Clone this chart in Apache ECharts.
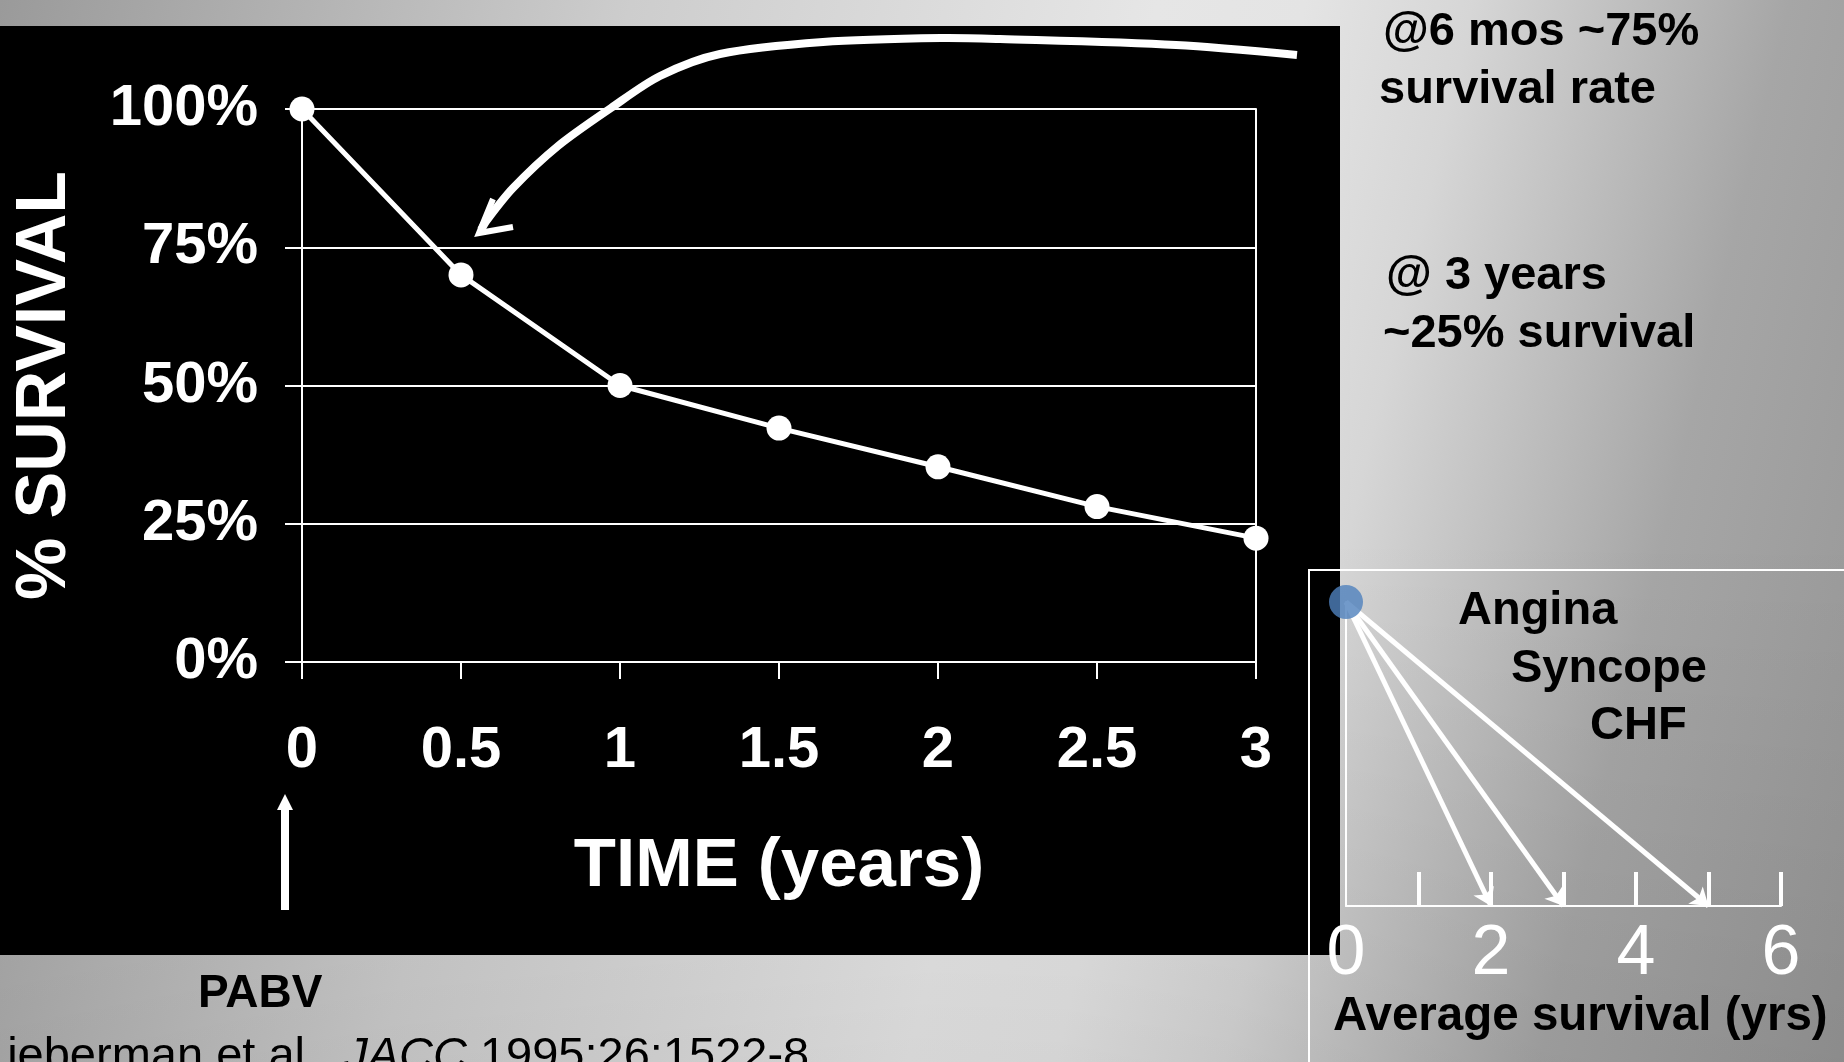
<!DOCTYPE html>
<html>
<head>
<meta charset="utf-8">
<script src="https://cdn.jsdelivr.net/npm/echarts@6/dist/echarts.min.js"></script>
<style>
  html, body { margin: 0; padding: 0; overflow: hidden; background: #b4b4b4; }
  #chart { width: 1844px; height: 1062px; }
</style>
</head>
<body>
<div id="chart"></div>
<script>
// Survival after percutaneous aortic balloon valvuloplasty (PABV)
const years = [0, 0.5, 1, 1.5, 2, 2.5, 3];
const survivalPct = [100, 70, 50, 42.3, 35.3, 28.1, 22.4];
const survivalTicks = [0, 25, 50, 75, 100];

// Average survival once symptoms appear (years)
const symptoms = ['Angina', 'Syncope', 'CHF'];
const avgSurvivalYears = [5, 3, 2];
const avgTickValues = [1, 2, 3, 4, 5, 6];
const avgLabelValues = [0, 2, 4, 6];

const FONT = '"Liberation Sans", Arial, Helvetica, sans-serif';
const WHITE = '#ffffff';

const chart = echarts.init(document.getElementById('chart'), null, { renderer: 'canvas' });

// slide background: light diagonal band fading to grey on both sides
const bgFill = new echarts.graphic.LinearGradient(0, 0, 1995, 470, [
  { offset: 0.00, color: '#9a9a9a' },
  { offset: 0.30, color: '#cdcdcd' },
  { offset: 0.55, color: '#e6e6e6' },
  { offset: 0.62, color: '#e4e4e4' },
  { offset: 0.70, color: '#d6d6d6' },
  { offset: 0.85, color: '#a6a6a6' },
  { offset: 1.00, color: '#959595' }
], true);
const bgShade = new echarts.graphic.LinearGradient(0, 0, 0, 1062, [
  { offset: 0.0, color: 'rgba(0,0,0,0)' },
  { offset: 0.5, color: 'rgba(0,0,0,0)' },
  { offset: 1.0, color: 'rgba(0,0,0,0.07)' }
], true);

function label(text, x, baseline, size, opts) {
  opts = opts || {};
  return {
    type: 'text', z: 20, x: x, y: baseline - 0.35 * size,
    style: {
      text: text, fill: opts.fill || '#000', fontFamily: FONT,
      fontSize: size, fontWeight: opts.weight || 'bold',
      align: 'left', verticalAlign: 'middle'
    }
  };
}

const symptomPos = [[1458, 627], [1511, 685], [1590, 742]];

const graphics = [
  { type: 'rect', z: -100, shape: { x: 0, y: 0, width: 1844, height: 1062 }, style: { fill: bgFill } },
  { type: 'rect', z: -99, shape: { x: 0, y: 0, width: 1844, height: 1062 }, style: { fill: bgShade } },
  { type: 'rect', z: -90, shape: { x: 0, y: 26, width: 1340, height: 929 }, style: { fill: '#000' } },
  // frame around the symptom inset
  { type: 'rect', z: -80, shape: { x: 1309, y: 570, width: 700, height: 700 },
    style: { fill: 'none', stroke: WHITE, lineWidth: 2 } },
  // curved pointer to the 6-month point
  { type: 'polyline', z: 20,
    shape: { smooth: 0.3, points: [[1297, 55], [1176, 45], [1000, 39], [941, 38], [823, 42], [720, 54],
      [660, 76], [611, 108], [558, 146], [513, 188], [487, 220], [481, 230]] },
    style: { stroke: WHITE, lineWidth: 8, fill: 'none', lineCap: 'butt' } },
  { type: 'polyline', z: 20,
    shape: { points: [[493, 199], [479, 233], [513, 227]] },
    style: { stroke: WHITE, lineWidth: 6, fill: 'none', lineJoin: 'miter' } },
  // procedure marker at time zero
  { type: 'polygon', z: 20,
    shape: { points: [[281, 910], [281, 810], [277, 810], [285, 794], [293, 810], [289, 810], [289, 910]] },
    style: { fill: WHITE } },
  label('@6 mos ~75%', 1383, 48, 47),
  label('survival rate', 1379, 106, 47),
  label('@ 3 years', 1386, 292, 47),
  label('~25% survival', 1383, 350, 47),
  label('Average survival (yrs)', 1333, 1034, 47.5),
  label('PABV', 198, 1010, 46),
  {
    type: 'text', z: 20, x: -19, y: 1073 - 0.35 * 47,
    style: {
      text: '{a|Lieberman et al., }{b|JACC}{a| 1995;26:1522-8}',
      fill: '#000', fontFamily: FONT, fontSize: 47, verticalAlign: 'middle', align: 'left',
      rich: {
        a: { fontFamily: FONT, fontSize: 47, fill: '#000' },
        b: { fontFamily: FONT, fontSize: 47, fill: '#000', fontStyle: 'italic' }
      }
    }
  }
];
symptoms.forEach(function (name, i) {
  graphics.push(label(name, symptomPos[i][0], symptomPos[i][1], 47));
});

const option = {
  backgroundColor: 'transparent',
  animation: false,
  graphic: { elements: graphics },
  grid: [
    { left: 302, top: 109, width: 954, height: 553, outerBoundsMode: 'none', containLabel: false },
    { left: 1346, top: 602, width: 435, height: 304, outerBoundsMode: 'none', containLabel: false }
  ],
  xAxis: [
    {
      type: 'value', gridIndex: 0, min: 0, max: 3, interval: 0.5,
      axisLine: { show: true, lineStyle: { color: WHITE, width: 2 } },
      axisTick: { show: true, inside: false, length: 17, lineStyle: { color: WHITE, width: 2 } },
      axisLabel: { color: WHITE, fontSize: 58, fontWeight: 'bold', fontFamily: FONT, margin: 60,
        showMinLabel: true, showMaxLabel: true, hideOverlap: false },
      splitLine: { show: false },
      name: 'TIME (years)', nameLocation: 'middle', nameGap: 170,
      nameTextStyle: { color: WHITE, fontSize: 69, fontWeight: 'bold', fontFamily: FONT }
    },
    {
      type: 'value', gridIndex: 1, min: 0, max: 6, interval: 1,
      axisLine: { show: true, lineStyle: { color: WHITE, width: 2 } },
      axisTick: { show: true, inside: true, length: 34, customValues: avgTickValues,
        lineStyle: { color: WHITE, width: 4 } },
      axisLabel: { color: WHITE, fontSize: 70, fontWeight: 'normal', fontFamily: FONT, margin: 14,
        customValues: avgLabelValues, showMinLabel: true, showMaxLabel: true, hideOverlap: false },
      splitLine: { show: false }
    }
  ],
  yAxis: [
    {
      type: 'value', gridIndex: 0, min: 0, max: 100, interval: 25,
      axisLine: { show: true, lineStyle: { color: WHITE, width: 2 } },
      axisTick: { show: true, inside: false, length: 17, lineStyle: { color: WHITE, width: 2 } },
      axisLabel: { color: WHITE, fontSize: 58, fontWeight: 'bold', fontFamily: FONT, margin: 44,
        formatter: '{value}%', showMinLabel: true, showMaxLabel: true, hideOverlap: false },
      splitLine: { show: true, lineStyle: { color: WHITE, width: 2 } },
      name: '% SURVIVAL', nameLocation: 'middle', nameRotate: 90, nameGap: 221,
      nameTextStyle: { color: WHITE, fontSize: 70, fontWeight: 'bold', fontFamily: FONT }
    },
    {
      type: 'value', gridIndex: 0, position: 'right', min: 0, max: 100, interval: 25,
      axisLine: { show: true, lineStyle: { color: WHITE, width: 2 } },
      axisTick: { show: false }, axisLabel: { show: false }, splitLine: { show: false }
    },
    {
      type: 'value', gridIndex: 1, min: 0, max: 1,
      axisLine: { show: true, lineStyle: { color: WHITE, width: 2 } },
      axisTick: { show: false }, axisLabel: { show: false }, splitLine: { show: false }
    }
  ],
  series: [
    {
      name: 'Survival', type: 'line', xAxisIndex: 0, yAxisIndex: 0,
      data: years.map(function (t, i) { return [t, survivalPct[i]]; }),
      lineStyle: { color: WHITE, width: 5 },
      itemStyle: { color: WHITE, borderWidth: 0 },
      symbol: 'circle', symbolSize: 25, z: 5
    },
    {
      name: 'Symptom onset', type: 'lines', coordinateSystem: 'cartesian2d',
      xAxisIndex: 1, yAxisIndex: 2, clip: false,
      data: avgSurvivalYears.map(function (y, i) {
        return { name: symptoms[i], coords: [[0, 1], [y, 0]] };
      }),
      lineStyle: { color: WHITE, width: 5, opacity: 1, curveness: 0 },
      symbol: ['none', 'arrow'], symbolSize: 17, z: 6
    },
    {
      name: 'Onset', type: 'scatter', xAxisIndex: 1, yAxisIndex: 2, clip: false,
      data: [[0, 1]], symbolSize: 34,
      itemStyle: { color: '#4f81bd' }, z: 8
    }
  ]
};

chart.setOption(option);
</script>
</body>
</html>
